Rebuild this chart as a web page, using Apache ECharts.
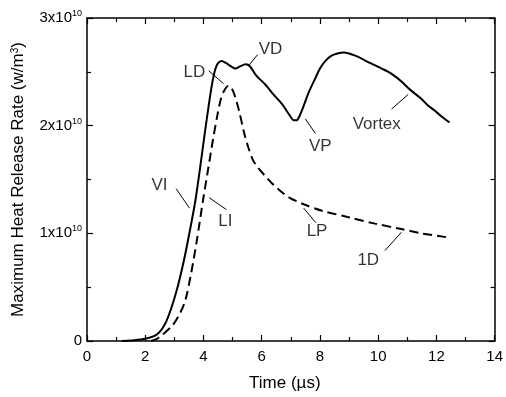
<!DOCTYPE html>
<html>
<head>
<meta charset="utf-8">
<script src="https://cdn.jsdelivr.net/npm/echarts@6/dist/echarts.min.js"></script>
<style>
  html, body { margin: 0; padding: 0; background: #fff; }
  #chart { width: 506px; height: 397px; }
</style>
</head>
<body>
<div id="chart"></div>
<script>
// Time in microseconds, heat release rate in units of 1e10 W/m^3
const vortexTime = [1.2, 1.5, 2.0, 2.4, 2.72, 3.06, 3.33, 3.55, 3.72, 3.88, 4.03, 4.16, 4.29, 4.40, 4.50, 4.62, 4.78, 4.95, 5.1, 5.25, 5.45, 5.6, 5.8, 6.13, 6.4, 6.7, 6.95, 7.1, 7.2, 7.3, 7.45, 7.6, 7.84, 8.0, 8.18, 8.4, 8.6, 8.81, 9.0, 9.21, 9.45, 9.66, 9.9, 10.12, 10.35, 10.57, 10.8, 11.03, 11.25, 11.48, 11.7, 11.94, 12.2, 12.45];
const vortexRate = [0, 0.005, 0.02, 0.06, 0.18, 0.45, 0.75, 1.05, 1.30, 1.60, 1.90, 2.15, 2.38, 2.52, 2.58, 2.60, 2.58, 2.55, 2.53, 2.55, 2.57, 2.55, 2.47, 2.38, 2.29, 2.20, 2.10, 2.05, 2.05, 2.09, 2.19, 2.30, 2.44, 2.53, 2.60, 2.65, 2.67, 2.68, 2.67, 2.65, 2.62, 2.59, 2.56, 2.53, 2.50, 2.46, 2.41, 2.35, 2.30, 2.25, 2.19, 2.14, 2.08, 2.03];

const oneDTime = [2.2, 2.4, 2.6, 2.95, 3.2, 3.38, 3.57, 3.77, 3.98, 4.15, 4.32, 4.48, 4.6, 4.72, 4.86, 4.96, 5.06, 5.22, 5.4, 5.55, 5.7, 5.9, 6.13, 6.35, 6.59, 6.93, 7.44, 8.07, 8.98, 9.89, 10.8, 11.48, 12.45];
const oneDRate = [0, 0.02, 0.06, 0.15, 0.26, 0.38, 0.62, 0.93, 1.30, 1.58, 1.86, 2.10, 2.25, 2.33, 2.37, 2.35, 2.29, 2.14, 1.93, 1.79, 1.68, 1.60, 1.53, 1.465, 1.405, 1.335, 1.27, 1.21, 1.15, 1.09, 1.04, 1.00, 0.96];

// Axis ranges and ticks
const xTicks = [0, 2, 4, 6, 8, 10, 12, 14];
const yTicks = [0, 1, 2, 3];

// Annotation names, text anchors and leader segments (data units)
const noteNames = ['VD', 'LD', 'VI', 'LI', 'VP', 'Vortex', 'LP', '1D'];
const noteText = [[6.3, 2.71], [3.69, 2.50], [2.49, 1.445], [4.75, 1.11], [8.01, 1.81], [9.95, 2.01], [7.90, 1.02], [9.66, 0.75]];
const noteLeaderFrom = [[5.56, 2.56], [4.18, 2.51], [3.06, 1.415], [4.20, 1.33], [7.50, 2.063], [10.46, 2.154], [7.44, 1.234], [10.23, 0.84]];
const noteLeaderTo = [[5.86, 2.66], [4.69, 2.39], [3.52, 1.234], [4.79, 1.22], [7.84, 1.928], [11.03, 2.29], [7.86, 1.099], [10.80, 1.01]];

const FONT = '"Liberation Sans", Arial, Helvetica, sans-serif';
const zip = (a, b) => a.map((v, i) => [v, b[i]]);

const chart = echarts.init(document.getElementById('chart'), null, { renderer: 'canvas' });

const tickCommon = {
  axisLine: { show: true, onZero: false, lineStyle: { color: '#000', width: 1.5 } },
  axisTick: { show: true, inside: true, length: 6, lineStyle: { color: '#000', width: 1.2 } },
  minorTick: { show: true, splitNumber: 2, length: 4, lineStyle: { color: '#000', width: 1.2 } },
  splitLine: { show: false },
  minorSplitLine: { show: false }
};

chart.setOption({
  animation: false,
  backgroundColor: '#fff',
  grid: { left: 87, right: 9, top: 18, bottom: 47, containLabel: false },
  xAxis: [
    Object.assign({
      type: 'value', position: 'bottom',
      min: xTicks[0], max: xTicks[xTicks.length - 1], interval: 2,
      name: 'Time (\u00b5s)', nameLocation: 'middle', nameGap: 34,
      nameTextStyle: { fontFamily: FONT, fontSize: 17, color: '#000', padding: [0, 12, 0, 0] },
      axisLabel: { fontFamily: FONT, fontSize: 15, color: '#000', margin: 8 }
    }, tickCommon),
    Object.assign({
      type: 'value', position: 'top',
      min: xTicks[0], max: xTicks[xTicks.length - 1], interval: 2,
      axisLabel: { show: false }
    }, tickCommon)
  ],
  yAxis: [
    Object.assign({
      type: 'value', position: 'left',
      min: yTicks[0], max: yTicks[yTicks.length - 1], interval: 1,
      name: 'Maximum Heat Release Rate (w/m{s|3})', nameLocation: 'middle', nameGap: 60,
      nameTextStyle: {
        fontFamily: FONT, fontSize: 17, color: '#000',
        rich: { s: { fontFamily: FONT, fontSize: 10, color: '#000', verticalAlign: 'top', lineHeight: 14 } }
      },
      axisLabel: {
        fontFamily: FONT, fontSize: 15, color: '#000', margin: 5,
        formatter: v => v === 0 ? '{b|0}' : '{b|' + v + 'x10}{s|10}',
        rich: {
          b: { fontFamily: FONT, fontSize: 15, color: '#000', lineHeight: 18 },
          s: { fontFamily: FONT, fontSize: 9, color: '#000', verticalAlign: 'top', lineHeight: 18, padding: [0, 0, 6, 0] }
        }
      }
    }, tickCommon),
    Object.assign({
      type: 'value', position: 'right',
      min: yTicks[0], max: yTicks[yTicks.length - 1], interval: 1,
      axisLabel: { show: false }
    }, tickCommon)
  ],
  series: [
    {
      name: 'Vortex', type: 'line', xAxisIndex: 0, yAxisIndex: 0,
      data: zip(vortexTime, vortexRate),
      showSymbol: false, smooth: 0.3,
      lineStyle: { color: '#000', width: 2 }
    },
    {
      name: '1D', type: 'line', xAxisIndex: 0, yAxisIndex: 0,
      data: zip(oneDTime, oneDRate),
      showSymbol: false, smooth: 0.3,
      lineStyle: { color: '#000', width: 2, type: [9, 5] }
    },
    {
      name: 'leaders', type: 'lines', coordinateSystem: 'cartesian2d',
      xAxisIndex: 0, yAxisIndex: 0, silent: true,
      data: noteLeaderFrom.map((p, i) => ({ coords: [p, noteLeaderTo[i]] })),
      lineStyle: { color: '#000', width: 1, opacity: 1 }
    },
    {
      name: 'notes', type: 'scatter', xAxisIndex: 0, yAxisIndex: 0, silent: true,
      symbolSize: 1, itemStyle: { color: 'rgba(0,0,0,0)' },
      data: noteNames.map((n, i) => ({ name: n, value: noteText[i] })),
      label: {
        show: true, position: 'inside', formatter: '{b}',
        fontFamily: FONT, fontSize: 17, color: '#000'
      }
    }
  ]
});
</script>
</body>
</html>
